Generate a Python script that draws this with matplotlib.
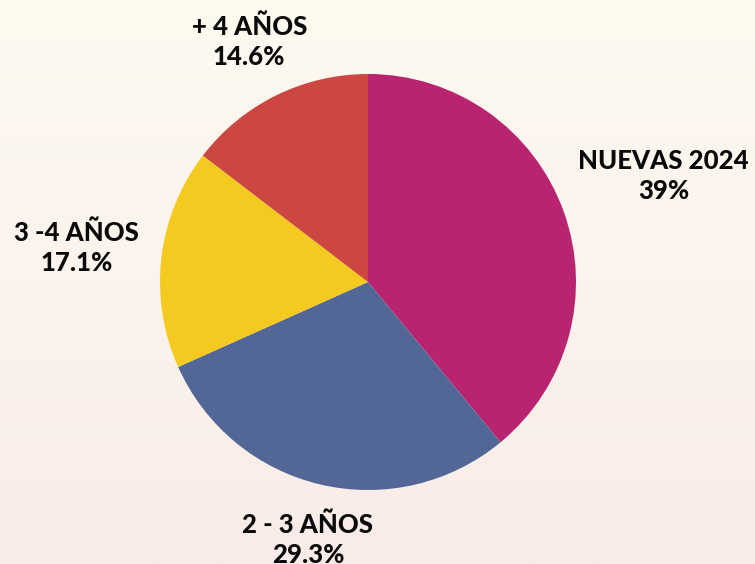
import numpy as np
import matplotlib
matplotlib.use("Agg")
import matplotlib.pyplot as plt

# Data
labels = ["NUEVAS 2024", "2 - 3 AÑOS", "3 -4 AÑOS", "+ 4 AÑOS"]
pct_text = ["39%", "29.3%", "17.1%", "14.6%"]
values = [39.0, 29.3, 17.1, 14.6]
colors = ["#B82470", "#536796", "#F5CA20", "#CC4741"]
label_dist = [1.51, 1.27, 1.41, 1.29]

W, H = 755, 564
R = 208.0
cx, cy = 368, 282

fig = plt.figure(figsize=(W / 100, H / 100), dpi=100)
ax = fig.add_axes([0, 0, 1, 1])

# background gradient (cream on top, pinkish at bottom)
grad = np.linspace(0, 1, 256)[:, None]
top = np.array([253, 250, 240]) / 255
bot = np.array([249, 236, 232]) / 255
img = top + (bot - top) * grad[..., None]
ax.imshow(np.repeat(img, 2, axis=1), extent=[-cx / R, (W - cx) / R, -cy / R, (H - cy) / R],
          aspect="auto", zorder=0)

wedges, _ = ax.pie(values, colors=colors, startangle=90, counterclock=False,
                   radius=1, wedgeprops=dict(linewidth=0))
for w in wedges:
    w.set_zorder(2)

# labels placed radially at the middle of each wedge
for w, lab, pt, d in zip(wedges, labels, pct_text, label_dist):
    ang = np.deg2rad((w.theta1 + w.theta2) / 2)
    ax.text(d * np.cos(ang), d * np.sin(ang), lab + "\n" + pt,
            ha="center", va="center", fontsize=18.5, fontweight=900,
            family="Lato", color="#0a0a0a", linespacing=1.3, zorder=3)

ax.set_xlim(-cx / R, (W - cx) / R)
ax.set_ylim(-cy / R, (H - cy) / R)
ax.set_aspect("equal")
ax.axis("off")

fig.savefig("out.png", dpi=100)
